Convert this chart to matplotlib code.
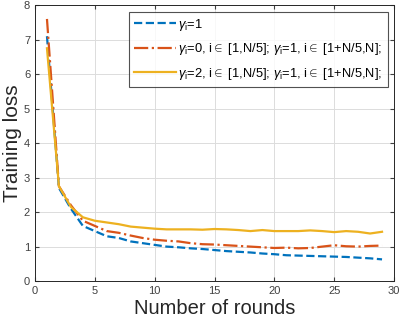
import matplotlib
matplotlib.use('Agg')
import matplotlib.pyplot as plt
import numpy as np

plt.rcParams['font.family'] = ['Liberation Sans', 'DejaVu Sans']
plt.rcParams['mathtext.fontset'] = 'custom'
plt.rcParams['mathtext.rm'] = 'Liberation Sans'
plt.rcParams['mathtext.it'] = 'Liberation Sans:italic'

rounds = list(range(1, 30))
loss_g1 = [7.1, 2.7, 2.1, 1.6, 1.45, 1.3, 1.25, 1.15, 1.1, 1.05, 1.0, 0.98, 0.95, 0.93, 0.9,
           0.87, 0.85, 0.83, 0.8, 0.78, 0.75, 0.74, 0.73, 0.72, 0.71, 0.7, 0.68, 0.66, 0.63]
loss_g0 = [7.6, 2.75, 2.2, 1.75, 1.6, 1.45, 1.4, 1.32, 1.25, 1.2, 1.17, 1.15, 1.1, 1.07, 1.06,
           1.04, 1.02, 1.0, 0.98, 0.96, 0.97, 0.95, 0.96, 1.0, 1.04, 1.01, 1.0, 1.02, 1.03]
loss_g2 = [6.75, 2.75, 2.15, 1.85, 1.75, 1.7, 1.65, 1.58, 1.55, 1.52, 1.5, 1.5, 1.5, 1.49, 1.51,
           1.5, 1.48, 1.45, 1.48, 1.45, 1.45, 1.45, 1.47, 1.45, 1.42, 1.45, 1.43, 1.38, 1.43]
labels = [r'$\gamma_{\rm i}$=1',
          r'$\gamma_{\rm i}$=0, i$\in$ [1,N/5]; $\gamma_{\rm i}$=1, i$\in$ [1+N/5,N];',
          r'$\gamma_{\rm i}$=2, i$\in$ [1,N/5]; $\gamma_{\rm i}$=1, i$\in$ [1+N/5,N];']

fig = plt.figure(figsize=(4, 3.22), dpi=100)
ax = fig.add_axes([0.0875, 0.127, 0.8975, 0.857])
ax.plot(rounds, loss_g1, '--', color='#0072BD', lw=1.6, label=labels[0])
ax.plot(rounds, loss_g0, '-.', color='#D95319', lw=1.6, label=labels[1])
ax.plot(rounds, loss_g2, '-', color='#EDB120', lw=1.6, label=labels[2])

ax.set_xlim(0, 30)
ax.set_ylim(0, 8)
ax.set_xticks(range(0, 31, 5))
ax.set_yticks(range(0, 9))
ax.grid(True, color='#dcdcdc', lw=0.7)
ax.tick_params(direction='in', length=3, labelsize=8, colors='#404040', top=True, right=True,
               labeltop=False, labelright=False)
for s in ax.spines.values():
    s.set_color('#262626')
    s.set_linewidth(0.7)
ax.set_xlabel('Number of rounds', fontsize=14.5, color='#262626', labelpad=2)
ax.set_ylabel('Training loss', fontsize=15, color='#262626', labelpad=1)

leg = ax.legend(loc='upper right', fontsize=9.3, fancybox=False, edgecolor='#262626',
                handlelength=3.2, handletextpad=0.2, borderpad=0.4, labelspacing=0.65,
                borderaxespad=0.5)
leg.get_frame().set_linewidth(0.8)

fig.savefig('out.png', dpi=100)
